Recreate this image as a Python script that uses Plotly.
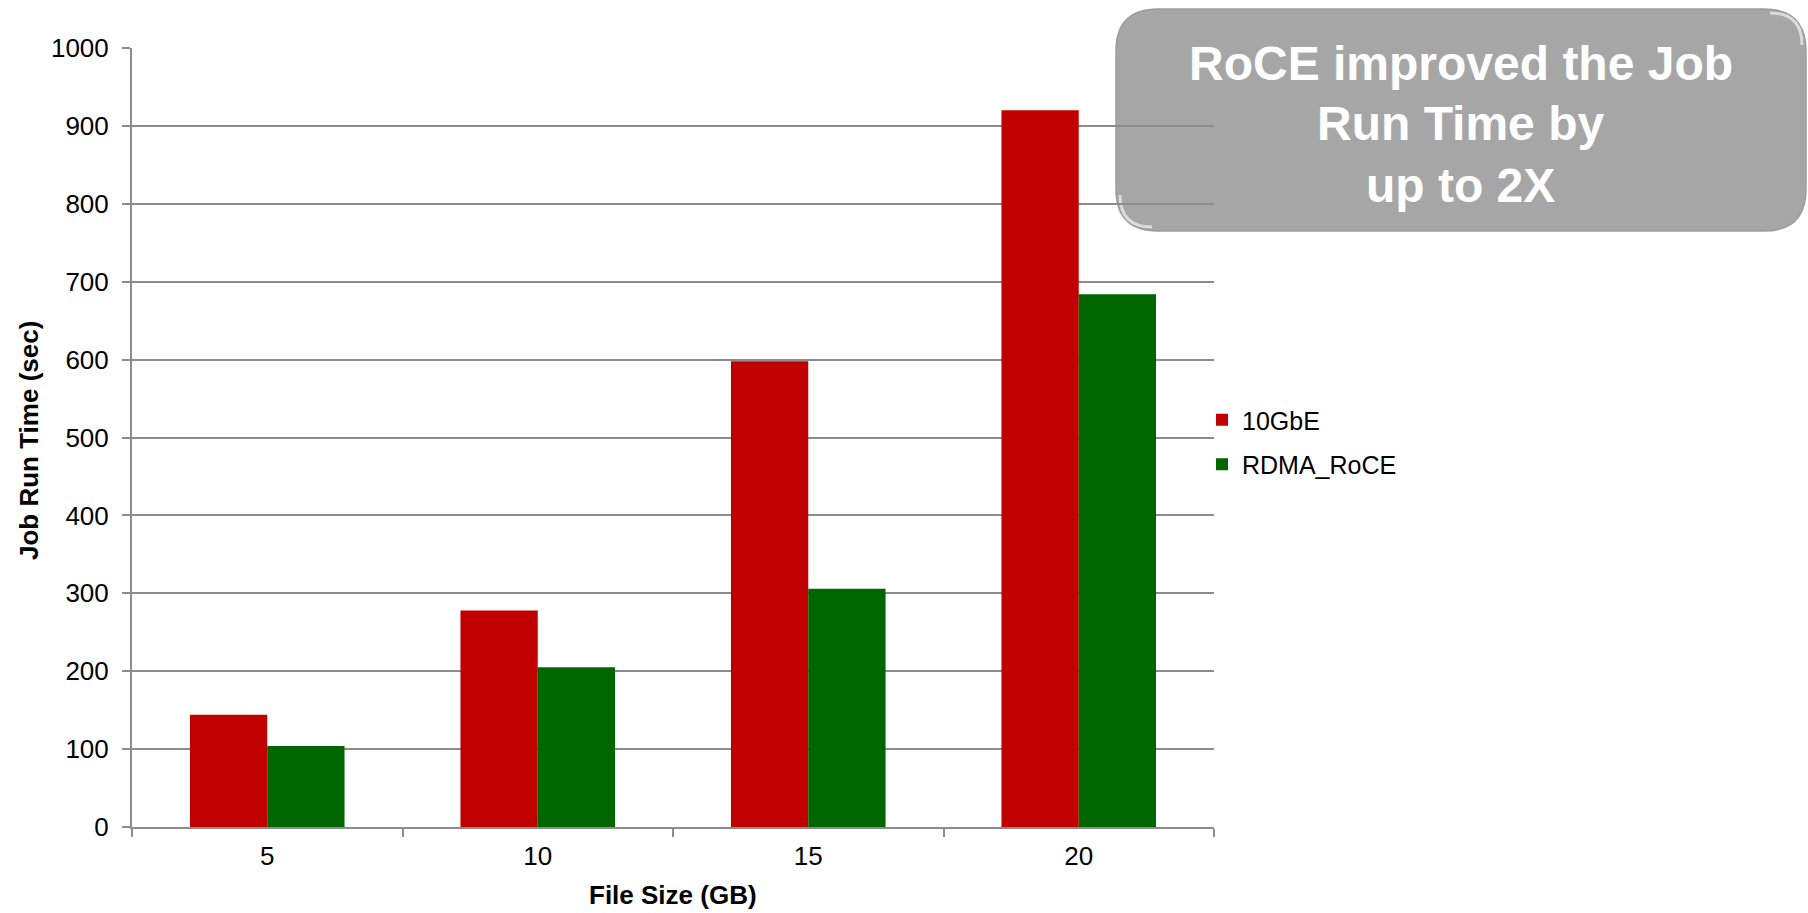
import plotly.graph_objects as go

# --- data -------------------------------------------------------------
file_sizes = ["5", "10", "15", "20"]          # File Size (GB)
gbe_10 = [144, 278, 598, 920]                 # 10GbE job run time (sec)
rdma_roce = [104, 205, 306, 684]              # RDMA_RoCE job run time (sec)
y_ticks = [0, 100, 200, 300, 400, 500, 600, 700, 800, 900, 1000]
callout_lines = ["RoCE improved the Job", "Run Time by", "up to 2X"]

# --- page / plot-area geometry (pixels) --------------------------------
W, H = 1808, 913
M_L, M_R, M_T, M_B = 132, 594, 48, 86
PX0, PX1 = M_L, W - M_R
PY0, PY1 = M_T, H - M_B

FONT = "Arial, Liberation Sans, sans-serif"
GRID = "#8c8c8c"


def px(x):
    """pixel x -> paper x"""
    return (x - PX0) / (PX1 - PX0)


def py(y):
    """pixel y -> paper y"""
    return (PY1 - y) / (PY1 - PY0)


fig = go.Figure()
fig.add_trace(go.Bar(
    x=file_sizes, y=gbe_10, name="10GbE", legendgroup="a",
    marker=dict(color="#C00000", line=dict(width=0)),
))
fig.add_trace(go.Bar(
    x=file_sizes, y=rdma_roce, name="RDMA_RoCE", legendgroup="b",
    marker=dict(color="#006600", line=dict(width=0)),
))

# rounded grey callout box (drawn beneath the grid)
bl, br, bt, bb, r = 1116, 1806, 9, 231, 42
pts = [
    ("M", (bl + r, bt)), ("L", (br - r, bt)),
    ("Q", (br, bt), (br, bt + r)), ("L", (br, bb - r)),
    ("Q", (br, bb), (br - r, bb)), ("L", (bl + r, bb)),
    ("Q", (bl, bb), (bl, bb - r)), ("L", (bl, bt + r)),
    ("Q", (bl, bt), (bl + r, bt)),
]
path = ""
for cmd, *coords in pts:
    path += cmd + " ".join(f"{px(x):.5f},{py(y):.5f}" for x, y in coords) + " "
path += "Z"

shapes = [dict(
    type="path", path=path, xref="paper", yref="paper", layer="below",
    fillcolor="#A6A6A6", line=dict(color="#9c9c9c", width=1.5),
)]
# soft highlights on two corners of the box
hl_bl = (f"M{px(bl + 4):.5f},{py(bb - r + 6):.5f} "
         f"Q{px(bl + 4):.5f},{py(bb - 4):.5f} {px(bl + r - 6):.5f},{py(bb - 4):.5f}")
hl_tr = (f"M{px(br - r + 6):.5f},{py(bt + 4):.5f} "
         f"Q{px(br - 4):.5f},{py(bt + 4):.5f} {px(br - 4):.5f},{py(bt + r - 6):.5f}")
for p in (hl_bl, hl_tr):
    shapes.append(dict(type="path", path=p, xref="paper", yref="paper",
                       layer="below", line=dict(color="rgba(255,255,255,0.6)", width=3)))

annotations = []
for txt, yc in zip(callout_lines, [63, 124, 185]):
    annotations.append(dict(
        text=f"<b>{txt}</b>", xref="paper", yref="paper",
        x=px((bl + br) / 2), y=py(yc), xanchor="center", yanchor="middle",
        showarrow=False, font=dict(family=FONT, size=48, color="white"),
    ))

# axis titles
annotations.append(dict(
    text="<b>Job Run Time (sec)</b>", xref="paper", yref="paper",
    x=px(29), y=py(441), xanchor="center", yanchor="middle", textangle=-90,
    showarrow=False, font=dict(family=FONT, size=26, color="black"),
))
annotations.append(dict(
    text="<b>File Size (GB)</b>", xref="paper", yref="paper",
    x=px((PX0 + PX1) / 2), y=py(895), xanchor="center", yanchor="middle",
    showarrow=False, font=dict(family=FONT, size=26, color="black"),
))

fig.update_layout(
    width=W, height=H,
    margin=dict(l=M_L, r=M_R, t=M_T, b=M_B, pad=0, autoexpand=False),
    paper_bgcolor="white", plot_bgcolor="rgba(0,0,0,0)",
    barmode="group", bargap=0.4286, bargroupgap=0,
    font=dict(family=FONT, color="black"),
    shapes=shapes, annotations=annotations,
    showlegend=True,
    legend=dict(
        xref="container", yref="container",
        x=1202 / W, y=1 - 442 / H, xanchor="left", yanchor="middle",
        font=dict(family=FONT, size=25, color="black"),
        tracegroupgap=9, traceorder="grouped",
        bgcolor="rgba(0,0,0,0)",
    ),
    xaxis=dict(
        type="category", tickson="boundaries",
        showgrid=False, showline=True, linecolor=GRID, linewidth=2,
        ticks="outside", ticklen=8, tickcolor=GRID, tickwidth=1.5,
        tickfont=dict(family=FONT, size=26, color="black"),
        ticklabelstandoff=5,
    ),
    yaxis=dict(
        range=[0, 1000], tickvals=y_ticks,
        showgrid=True, gridcolor=GRID, gridwidth=1.5,
        showline=True, linecolor=GRID, linewidth=2,
        ticks="outside", ticklen=8, tickcolor=GRID, tickwidth=1.5,
        tickfont=dict(family=FONT, size=26, color="black"),
        ticklabelstandoff=8, zeroline=False,
    ),
)

fig.write_html("out.html")
